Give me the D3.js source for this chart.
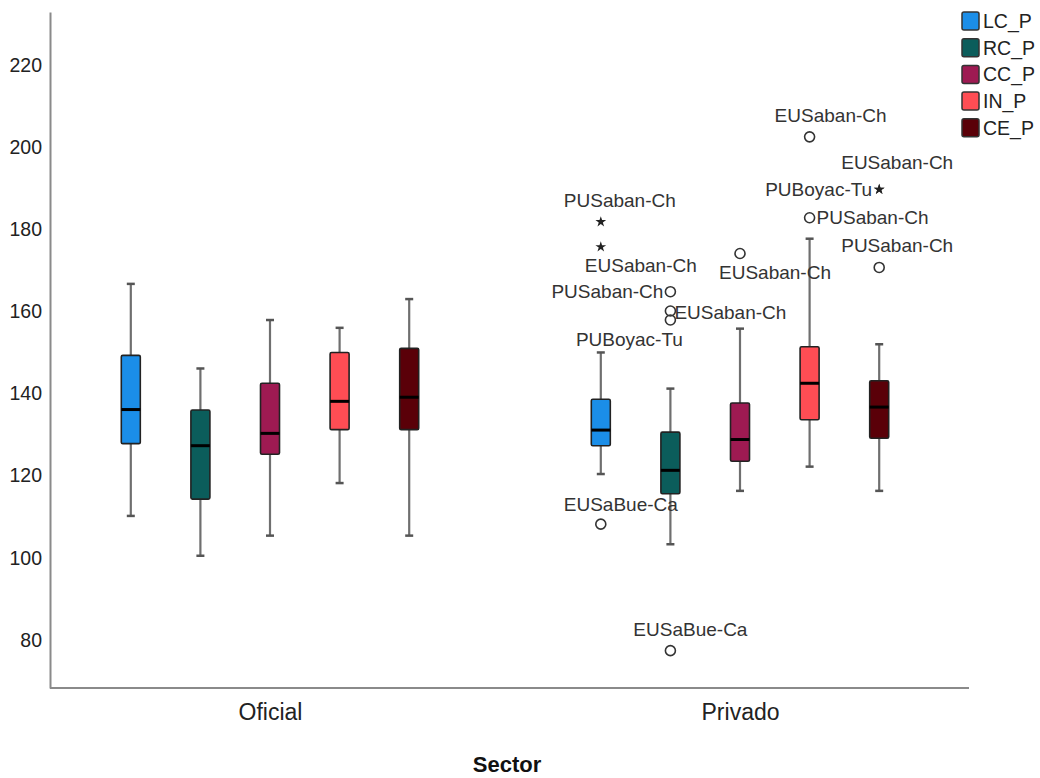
<!DOCTYPE html>
<html>
<head>
<meta charset="utf-8">
<script src="https://cdn.jsdelivr.net/npm/d3@7"></script>
<style>
  html, body { margin: 0; padding: 0; background: #fff; }
  svg { display: block; font-family: "Liberation Sans", Arial, sans-serif; }
</style>
</head>
<body>
<svg id="chart" width="1040" height="778"></svg>
<script>
// ---------- data ----------
const sectors = ["Oficial", "Privado"];
const series = ["LC_P", "RC_P", "CC_P", "IN_P", "CE_P"];
const seriesColors = ["#1b8ee8", "#0b5d5b", "#9e1a52", "#ff4d54", "#5a0008"];
const yTicks = [80, 100, 120, 140, 160, 180, 200, 220];

// box statistics, one value per series (LC, RC, CC, IN, CE)
const minOficial = [110.2, 100.5, 105.4, 118.2, 105.4];
const q1Oficial  = [127.8, 114.3, 125.2, 131.2, 131.2];
const medOficial = [136.1, 127.3, 130.3, 138.1, 139.1];
const q3Oficial  = [149.3, 136.0, 142.5, 150.0, 151.0];
const maxOficial = [166.7, 146.1, 157.9, 156.0, 163.0];

const minPrivado = [120.4, 103.3, 116.3, 122.2, 116.3];
const q1Privado  = [127.3, 115.6, 123.5, 133.6, 129.1];
const medPrivado = [131.1, 121.3, 128.8, 142.5, 136.7];
const q3Privado  = [138.6, 130.6, 137.7, 151.4, 143.1];
const maxPrivado = [150.0, 141.2, 155.8, 177.7, 152.0];

// outliers (all in sector Privado)
const outlierSector = ["Privado","Privado","Privado","Privado","Privado","Privado","Privado","Privado","Privado","Privado","Privado","Privado","Privado"];
const outlierSeries = ["LC_P","LC_P","LC_P","RC_P","RC_P","RC_P","RC_P","CC_P","IN_P","IN_P","CE_P","CE_P","CE_P"];
const outlierValues = [181.8, 175.7, 108.2, 164.8, 160.1, 157.9, 77.4, 174.1, 202.5, 182.8, 189.7, 189.7, 170.7];
const outlierKinds  = ["extreme","extreme","out","out","out","out","out","out","out","out","extreme","extreme","out"];
const outlierLabels = ["PUSaban-Ch","EUSaban-Ch","EUSaBue-Ca","PUSaban-Ch","EUSaban-Ch","PUBoyac-Tu","EUSaBue-Ca","EUSaban-Ch","EUSaban-Ch","PUSaban-Ch","PUBoyac-Tu","EUSaban-Ch","PUSaban-Ch"];

// ---------- layout ----------
const labelOffsets = [
  [19,-22,"middle"], [40,18,"middle"], [20,-20,"middle"],
  [-7,0,"end"], [4,1,"start"], [-41,19,"middle"], [20,-21,"middle"],
  [35,19,"middle"], [21,-22,"middle"], [7,0,"start"],
  [-7,0,"end"], [18,-27,"middle"], [18,-22,"middle"]
];

const svg = d3.select("#chart");
const axisLeftX = 50, axisBottomY = 688, axisTopY = 12, axisRightX = 969;

const y = d3.scaleLinear().domain([68.3, 232.9]).range([axisBottomY, axisTopY]);
const x = d3.scalePoint().domain(sectors).range([270, 740]);
const inner = d3.scaleBand().domain(series).range([-174, 174]).padding(0);
const color = d3.scaleOrdinal().domain(series).range(seriesColors);
const boxW = 19, capW = 8;

const stats = {
  Oficial: {min: minOficial, q1: q1Oficial, med: medOficial, q3: q3Oficial, max: maxOficial},
  Privado: {min: minPrivado, q1: q1Privado, med: medPrivado, q3: q3Privado, max: maxPrivado}
};
const boxes = [];
sectors.forEach(s => series.forEach((k, i) => boxes.push({
  sector: s, key: k,
  min: stats[s].min[i], q1: stats[s].q1[i], med: stats[s].med[i], q3: stats[s].q3[i], max: stats[s].max[i]
})));
const cx = d => x(d.sector) + inner(d.key) + inner.bandwidth() / 2;

// ---------- axes ----------
const yAxis = svg.append("g")
  .attr("transform", `translate(${axisLeftX},0)`)
  .call(d3.axisLeft(y).tickValues(yTicks).tickSize(0).tickPadding(8).tickFormat(d3.format("d")));
yAxis.select(".domain").attr("stroke", "#8a8a8a").attr("stroke-width", 2);
yAxis.selectAll(".tick text").attr("font-size", 19.5).attr("fill", "#222")
  .attr("font-family", "'Liberation Sans', Arial, sans-serif");

svg.append("line")
  .attr("x1", axisLeftX).attr("x2", axisRightX)
  .attr("y1", axisBottomY).attr("y2", axisBottomY)
  .attr("stroke", "#8a8a8a").attr("stroke-width", 2);

const xAxis = svg.append("g")
  .attr("transform", `translate(0,${axisBottomY})`)
  .call(d3.axisBottom(x).tickSize(0).tickPadding(16));
xAxis.select(".domain").remove();
xAxis.selectAll(".tick text").attr("font-size", 23).attr("fill", "#222")
  .attr("font-family", "'Liberation Sans', Arial, sans-serif");

svg.append("text")
  .attr("x", 507).attr("y", 772)
  .attr("text-anchor", "middle")
  .attr("font-size", 22).attr("font-weight", "bold").attr("fill", "#111")
  .text("Sector");

// ---------- boxes ----------
const g = svg.append("g");
const bx = g.selectAll("g.box").data(boxes).enter().append("g").attr("class", "box");

bx.append("line")
  .attr("x1", cx).attr("x2", cx)
  .attr("y1", d => y(d.max)).attr("y2", d => y(d.min))
  .attr("stroke", "#6f6f6f").attr("stroke-width", 2.2);
bx.append("line")
  .attr("x1", d => cx(d) - capW / 2).attr("x2", d => cx(d) + capW / 2)
  .attr("y1", d => y(d.max)).attr("y2", d => y(d.max))
  .attr("stroke", "#555").attr("stroke-width", 2.5);
bx.append("line")
  .attr("x1", d => cx(d) - capW / 2).attr("x2", d => cx(d) + capW / 2)
  .attr("y1", d => y(d.min)).attr("y2", d => y(d.min))
  .attr("stroke", "#555").attr("stroke-width", 2.5);
bx.append("rect")
  .attr("x", d => cx(d) - boxW / 2).attr("width", boxW)
  .attr("y", d => y(d.q3)).attr("height", d => y(d.q1) - y(d.q3))
  .attr("rx", 1.5)
  .attr("fill", d => color(d.key))
  .attr("stroke", "#222").attr("stroke-width", 1.6);
bx.append("line")
  .attr("x1", d => cx(d) - boxW / 2).attr("x2", d => cx(d) + boxW / 2)
  .attr("y1", d => y(d.med)).attr("y2", d => y(d.med))
  .attr("stroke", "#000").attr("stroke-width", 3);

// ---------- outliers ----------
const outliers = outlierValues.map((v, i) => ({
  sector: outlierSector[i], key: outlierSeries[i], value: v,
  kind: outlierKinds[i], label: outlierLabels[i], off: labelOffsets[i]
}));
const og = svg.append("g");
og.selectAll("circle").data(outliers.filter(d => d.kind === "out")).enter().append("circle")
  .attr("cx", cx).attr("cy", d => y(d.value)).attr("r", 5)
  .attr("fill", "none").attr("stroke", "#333").attr("stroke-width", 1.6);
og.selectAll("path.star").data(outliers.filter(d => d.kind === "extreme")).enter().append("path")
  .attr("class", "star")
  .attr("d", d3.symbol().type(d3.symbolStar).size(36))
  .attr("transform", d => `translate(${cx(d)},${y(d.value)})`)
  .attr("fill", "#222");
og.selectAll("text").data(outliers).enter().append("text")
  .attr("x", d => cx(d) + d.off[0]).attr("y", d => y(d.value) + d.off[1])
  .attr("dy", "0.35em")
  .attr("text-anchor", d => d.off[2])
  .attr("font-size", 19).attr("fill", "#333")
  .text(d => d.label);

// ---------- legend ----------
const lg = svg.append("g").attr("transform", "translate(962,12)");
const li = lg.selectAll("g").data(series).enter().append("g")
  .attr("transform", (d, i) => `translate(0,${i * 26.7})`);
li.append("rect").attr("width", 17).attr("height", 18).attr("rx", 2)
  .attr("fill", d => color(d)).attr("stroke", "#333").attr("stroke-width", 1.5);
li.append("text").attr("x", 21).attr("y", 9).attr("dy", "0.35em")
  .attr("font-size", 19.5).attr("fill", "#222").text(d => d);
</script>
</body>
</html>
